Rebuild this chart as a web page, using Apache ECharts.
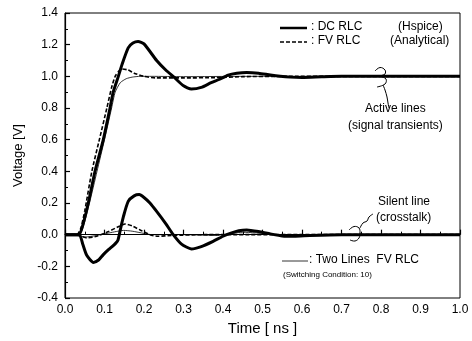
<!DOCTYPE html>
<html>
<head>
<meta charset="utf-8">
<script src="https://cdn.jsdelivr.net/npm/echarts@6/dist/echarts.min.js"></script>
<style>
html,body{margin:0;padding:0;background:#fff;}
#chart{width:472px;height:341px;}
</style>
</head>
<body>
<div id="chart"></div>
<script>
// ---- data (time in ns, voltage in V) ----
var dcActiveT = [0, 0.035, 0.045, 0.059, 0.076, 0.097, 0.114, 0.122, 0.135, 0.145, 0.16, 0.172, 0.185, 0.2, 0.232, 0.255, 0.278, 0.3, 0.32, 0.345, 0.37, 0.39, 0.413, 0.435, 0.46, 0.49, 0.52, 0.545, 0.57, 0.6, 0.65, 0.7, 0.8, 0.9, 1.0];
var dcActiveV = [0, 0, 0.06, 0.2, 0.4, 0.6, 0.8, 0.9, 1.0, 1.08, 1.18, 1.21, 1.22, 1.205, 1.1, 1.04, 0.99, 0.94, 0.92, 0.93, 0.96, 0.98, 1.008, 1.02, 1.025, 1.02, 1.008, 1.0, 0.995, 0.993, 0.997, 1.0, 1.0, 1.0, 1.0];

var fvActiveT = [0, 0.03, 0.04, 0.05, 0.068, 0.087, 0.106, 0.118, 0.127, 0.137, 0.145, 0.16, 0.175, 0.2, 0.23, 0.3, 0.38, 0.45, 0.55, 0.7, 1.0];
var fvActiveV = [0, 0, 0.04, 0.15, 0.4, 0.6, 0.8, 0.93, 1.0, 1.035, 1.046, 1.04, 1.02, 1.0, 0.99, 0.99, 0.992, 0.998, 1.0, 1.0, 1.0];

var twoActiveT = [0, 0.035, 0.045, 0.062, 0.081, 0.1, 0.118, 0.127, 0.14, 0.155, 0.17, 0.19, 0.22, 0.3, 0.45, 0.6, 1.0];
var twoActiveV = [0, 0, 0.04, 0.2, 0.4, 0.6, 0.8, 0.9, 0.96, 0.985, 0.995, 1.0, 1.0, 0.998, 1.0, 1.0, 1.0];

var dcSilentT = [0, 0.036, 0.045, 0.055, 0.072, 0.085, 0.097, 0.11, 0.12, 0.128, 0.134, 0.14, 0.148, 0.16, 0.175, 0.188, 0.2, 0.215, 0.232, 0.255, 0.274, 0.295, 0.32, 0.345, 0.375, 0.4, 0.42, 0.44, 0.46, 0.49, 0.52, 0.55, 0.58, 0.62, 0.7, 1.0];
var dcSilentV = [0, 0, -0.06, -0.13, -0.175, -0.16, -0.126, -0.095, -0.074, -0.055, -0.035, 0.03, 0.115, 0.21, 0.245, 0.253, 0.235, 0.2, 0.147, 0.07, 0, -0.06, -0.09, -0.075, -0.042, -0.01, 0.01, 0.025, 0.03, 0.02, 0.005, -0.008, -0.01, -0.005, 0, 0];

var fvSilentT = [0, 0.035, 0.055, 0.08, 0.11, 0.135, 0.152, 0.17, 0.19, 0.215, 0.235, 0.27, 0.35, 1.0];
var fvSilentV = [0, -0.005, -0.02, -0.01, 0.02, 0.05, 0.067, 0.055, 0.03, 0.0, -0.01, -0.005, 0, 0];

var twoSilentT = [0, 0.035, 0.05, 0.08, 0.11, 0.13, 0.148, 0.17, 0.2, 0.22, 0.3, 0.38, 0.45, 0.52, 0.58, 0.65, 1.0];
var twoSilentV = [0, -0.005, -0.015, -0.005, 0.01, 0.02, 0.027, 0.022, 0.008, 0, 0, -0.005, 0.015, 0.005, -0.008, 0, 0];

var xTicks = [0.0, 0.1, 0.2, 0.3, 0.4, 0.5, 0.6, 0.7, 0.8, 0.9, 1.0];
var yTicks = [-0.4, -0.2, 0.0, 0.2, 0.4, 0.6, 0.8, 1.0, 1.2, 1.4];

function pairs(t, v) { return t.map(function (x, i) { return [x, v[i]]; }); }

var FONT = '"Liberation Sans", Arial, sans-serif';
var chart = echarts.init(document.getElementById('chart'), null, {renderer: 'canvas'});

function mkSeries(name, t, v, width, type) {
  return {
    name: name, type: 'line', data: pairs(t, v), showSymbol: false, symbol: 'none',
    smooth: 0.2,
    lineStyle: {color: '#000', width: width, type: type},
    animation: false, silent: true
  };
}

var option = {
  animation: false,
  grid: {left: 65, right: 12, top: 13, bottom: 43, show: true, borderColor: '#000', borderWidth: 1},
  xAxis: {
    type: 'value', min: xTicks[0], max: xTicks[xTicks.length - 1], interval: 0.1,
    name: 'Time [ ns ]', nameLocation: 'middle', nameGap: 15,
    nameTextStyle: {fontFamily: FONT, fontSize: 15, color: '#000'},
    axisLine: {show: true, lineStyle: {color: '#000', width: 1.2}},
    axisTick: {show: true, inside: true, length: 5, lineStyle: {color: '#000', width: 1.2}},
    minorTick: {show: true, splitNumber: 2, length: 3, lineStyle: {color: '#000'}},
    axisLabel: {fontFamily: FONT, fontSize: 12, color: '#000', margin: 6,
      formatter: function (v) { return v.toFixed(1); }},
    splitLine: {show: false}
  },
  yAxis: {
    type: 'value', min: yTicks[0], max: yTicks[yTicks.length - 1], interval: 0.2,
    name: 'Voltage [V]', nameLocation: 'middle', nameGap: 40, nameRotate: 90,
    nameTextStyle: {fontFamily: FONT, fontSize: 13, color: '#000'},
    axisLine: {show: true, lineStyle: {color: '#000', width: 1.2}},
    axisTick: {show: true, inside: true, length: 5, lineStyle: {color: '#000', width: 1.2}},
    minorTick: {show: true, splitNumber: 2, length: 3, lineStyle: {color: '#000'}},
    axisLabel: {fontFamily: FONT, fontSize: 12, color: '#000', margin: 7,
      formatter: function (v) { return v.toFixed(1); }},
    splitLine: {show: false}
  },
  series: [
    mkSeries('Two Lines FV RLC (active)', twoActiveT, twoActiveV, 0.8, 'solid'),
    mkSeries('Two Lines FV RLC (silent)', twoSilentT, twoSilentV, 0.8, 'solid'),
    mkSeries('FV RLC (active)', fvActiveT, fvActiveV, 1.6, [4, 2]),
    mkSeries('FV RLC (silent)', fvSilentT, fvSilentV, 1.6, [4, 2]),
    mkSeries('DC RLC (active)', dcActiveT, dcActiveV, 3, 'solid'),
    mkSeries('DC RLC (silent)', dcSilentT, dcSilentV, 3, 'solid')
  ],
  graphic: [
    // legend
    {type: 'line', shape: {x1: 280, y1: 28, x2: 307, y2: 28}, style: {stroke: '#000', lineWidth: 2.5}},
    {type: 'text', left: 311, top: 21, style: {text: ': DC RLC', font: '12px ' + FONT, fill: '#000'}},
    {type: 'text', left: 398, top: 21, style: {text: '(Hspice)', font: '12px ' + FONT, fill: '#000'}},
    {type: 'line', shape: {x1: 280, y1: 42, x2: 307, y2: 42}, style: {stroke: '#000', lineWidth: 1.6, lineDash: [4, 2]}},
    {type: 'text', left: 311, top: 35, style: {text: ': FV RLC', font: '12px ' + FONT, fill: '#000'}},
    {type: 'text', left: 390, top: 35, style: {text: '(Analytical)', font: '12px ' + FONT, fill: '#000'}},
    // active lines annotation
    {type: 'polyline', shape: {points: [[375, 71], [380, 67.5], [385, 70], [385, 74], [381, 76], [386, 79], [385, 84], [377, 87]], smooth: 0.4},
      style: {stroke: '#000', lineWidth: 1, fill: null}},
    {type: 'polyline', shape: {points: [[383, 85], [385, 90], [387, 97], [388, 103], [389, 108]], smooth: 0.4},
      style: {stroke: '#000', lineWidth: 1, fill: null}},
    {type: 'text', left: 365, top: 103, style: {text: 'Active lines', font: '12px ' + FONT, fill: '#000'}},
    {type: 'text', left: 348, top: 120, style: {text: '(signal transients)', font: '12px ' + FONT, fill: '#000'}},
    // silent line annotation
    {type: 'polyline', shape: {points: [[349, 230], [354, 226.5], [359, 228], [360, 233], [359, 238], [355, 241], [350, 240]], smooth: 0.4},
      style: {stroke: '#000', lineWidth: 1, fill: null}},
    {type: 'polyline', shape: {points: [[360, 228], [363, 223], [367, 221], [369, 217], [373, 214]], smooth: 0.4},
      style: {stroke: '#000', lineWidth: 1, fill: null}},
    {type: 'text', left: 378, top: 196, style: {text: 'Silent line', font: '12px ' + FONT, fill: '#000'}},
    {type: 'text', left: 376, top: 212, style: {text: '(crosstalk)', font: '12px ' + FONT, fill: '#000'}},
    // two lines legend
    {type: 'line', shape: {x1: 282, y1: 261, x2: 308, y2: 261}, style: {stroke: '#000', lineWidth: 0.8}},
    {type: 'text', left: 309, top: 254, style: {text: ': Two Lines  FV RLC', font: '12px ' + FONT, fill: '#000'}},
    {type: 'text', left: 283, top: 271, style: {text: '(Switching Condition: 10)', font: '8px ' + FONT, fill: '#000'}}
  ]
};
chart.setOption(option);
</script>
</body>
</html>
